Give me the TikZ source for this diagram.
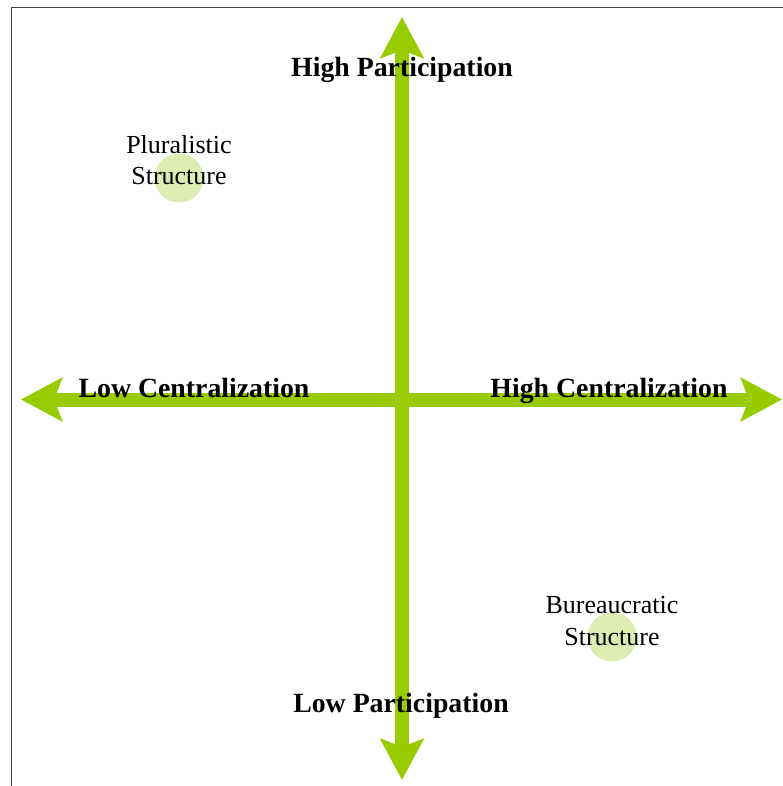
\documentclass[tikz,border=0pt]{standalone}
\usepackage{fontspec}
\setmainfont{Liberation Serif}
\usetikzlibrary{arrows.meta}
\definecolor{axisgreen}{RGB}{153,204,0}
\definecolor{dotgreen}{RGB}{221,236,176}
\definecolor{framegray}{RGB}{70,70,70}
\tikzset{
  axisarrow/.style={draw=axisgreen, line width=14pt,
    {Stealth[length=41pt,width=43pt,inset=8pt,fill=axisgreen]}-{Stealth[length=41pt,width=43pt,inset=8pt,fill=axisgreen]}},
  axislabel/.style={font=\fontsize{27.8}{32}\selectfont\bfseries, anchor=base, inner sep=0pt},
  dot/.style={circle, fill=dotgreen, minimum size=49pt, inner sep=0pt},
  dotlabel/.style={font=\fontsize{26}{32}\selectfont, align=center, anchor=base, inner sep=0pt}
}
\begin{document}
\begin{tikzpicture}[x=1pt,y=1pt]
\useasboundingbox (0,0) rectangle (782,-786);
\fill[white] (0,0) rectangle (782,-786);
% frame
\draw[framegray, line width=1.8pt] (11.5,-790) -- (11.5,-7.5) -- (790,-7.5);
% circles
\node[dot] (pdot) at (179,-178) {};
\node[dot] (bdot) at (612,-637) {};
% axes
\coordinate (left) at (21,-399.5);
\coordinate (right) at (782,-399.5);
\coordinate (top) at (402,-17);
\coordinate (bottom) at (402,-780);
\draw[axisarrow] (left) -- (right);
\draw[axisarrow] (bottom) -- (top);
% axis labels
\node[axislabel] (hp) at (402,-77) {High Participation};
\node[axislabel] (lp) at (401,-712) {Low Participation};
\node[axislabel] (lc) at (194,-397) {Low Centralization};
\node[axislabel] (hc) at (609,-397) {High Centralization};
% structure labels
\node[dotlabel] (pl1) at (179,-153.5) {Pluralistic};
\node[dotlabel] (pl2) at (179,-185) {Structure};
\node[dotlabel] (bu1) at (612,-613.5) {Bureaucratic};
\node[dotlabel] (bu2) at (612,-645) {Structure};
\end{tikzpicture}
\end{document}
